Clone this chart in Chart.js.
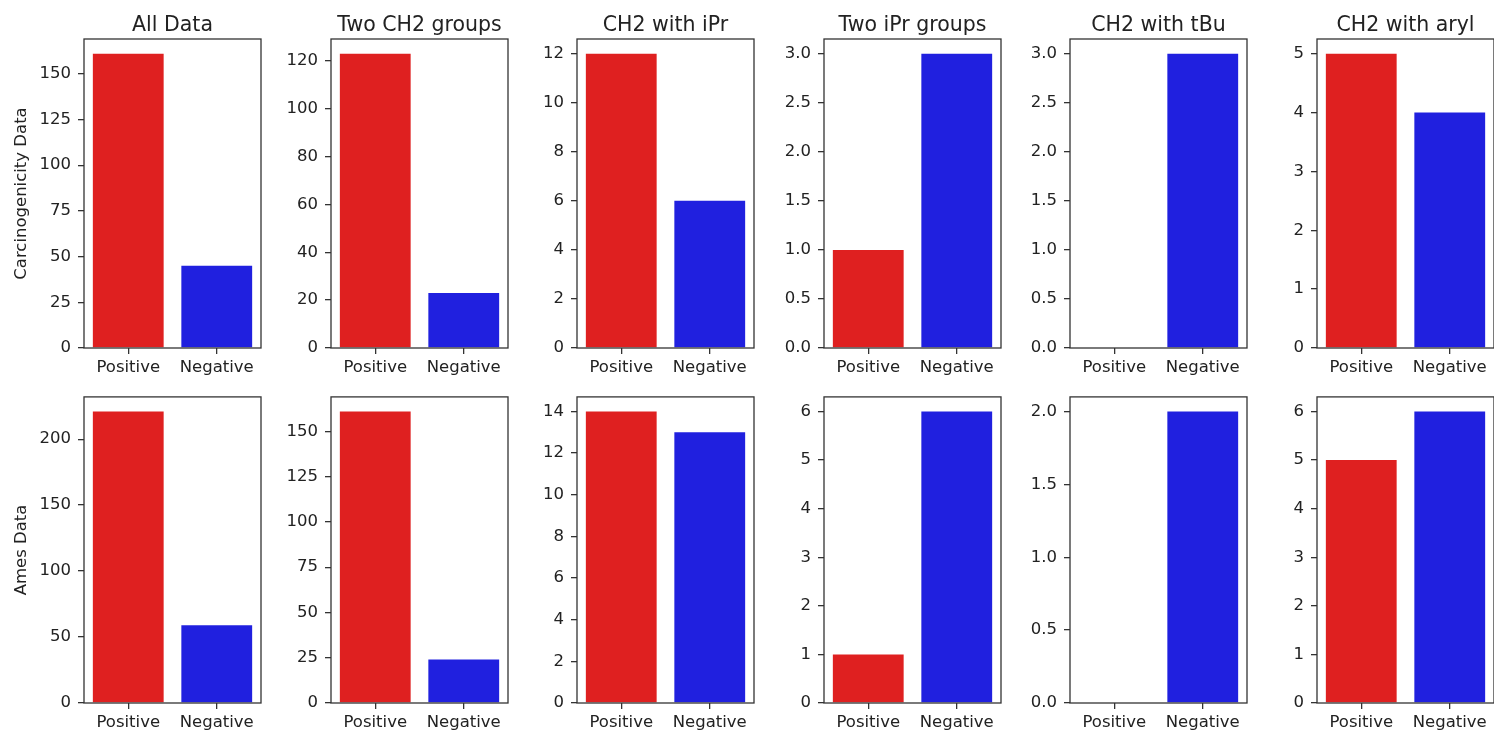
<!DOCTYPE html>
<html lang="en">
<head>
  <meta charset="UTF-8" />
  <title>Carcinogenicity and Ames Data</title>
  <script src="https://cdn.jsdelivr.net/npm/chart.js"></script>
  <style>
    body {
      margin: 0;
      background: white;
      width: 1494px;
      height: 733px;
      overflow: hidden;
      position: relative;
    }
    canvas { position: absolute; }
  </style>
</head>
<body>
  <script>
    const panelTitles = ["All Data", "Two CH2 groups", "CH2 with iPr", "Two iPr groups", "CH2 with tBu", "CH2 with aryl"];
    const categories = ["Positive", "Negative"];
    const rowLabels = ["Carcinogenicity Data", "Ames Data"];

    // [Positive, Negative] per panel
    const carcinogenicity = [[161, 45], [123, 23], [12, 6], [1, 3], [0, 3], [5, 4]];
    const ames = [[221, 59], [161, 24], [14, 13], [1, 6], [0, 2], [5, 6]];

    const carcTickSteps = [25, 20, 2, 0.5, 0.5, 1];
    const amesTickSteps = [50, 25, 2, 1, 0.5, 1];

    const barColors = ["#DF2020", "#2020DF"];

    // axes boxes (pixels)
    const axLeft = [84, 331, 577, 824, 1070, 1317];
    const axWidth = 177;
    const rows = [
      { canvasTop: 0, top: 39, bottom: 348 },
      { canvasTop: 380, top: 395, bottom: 703 }
    ];
    const xAxisH = 32;
    const textColor = "#222";
    const font = "DejaVu Sans";

    // box around the axes + title centred over the axes
    const frame = {
      id: "frame",
      afterDraw(chart, args, opts) {
        const a = chart.chartArea;
        const ctx = chart.ctx;
        ctx.save();
        ctx.strokeStyle = "#333";
        ctx.lineWidth = 1.3;
        ctx.strokeRect(a.left, a.top, a.right - a.left, a.bottom - a.top);
        if (opts.text) {
          ctx.fillStyle = textColor;
          ctx.font = "20.5px '" + font + "'";
          ctx.textAlign = "center";
          ctx.textBaseline = "alphabetic";
          ctx.fillText(opts.text, (a.left + a.right) / 2, a.top - 8);
        }
        ctx.restore();
      }
    };

    function makePanel(row, col, values, step) {
      const r = rows[row];
      const canvasLeft = col === 0 ? 0 : axLeft[col] - 70;
      const yw = axLeft[col] - canvasLeft;
      const w = yw + axWidth + 3;
      const h = (r.top - r.canvasTop) + (r.bottom - r.top) + xAxisH;

      const canvas = document.createElement("canvas");
      canvas.width = w;
      canvas.height = h;
      canvas.style.left = canvasLeft + "px";
      canvas.style.top = r.canvasTop + "px";
      document.body.appendChild(canvas);

      const ymax = Math.max(...values) * 1.05;
      const decimals = step < 1 ? 1 : 0;

      return new Chart(canvas, {
        type: "bar",
        data: {
          labels: categories,
          datasets: [{
            data: values,
            backgroundColor: barColors,
            borderWidth: 0,
            barPercentage: 0.8,
            categoryPercentage: 1
          }]
        },
        options: {
          responsive: false,
          animation: false,
          events: [],
          layout: { padding: { top: r.top - r.canvasTop, right: 3, left: 0, bottom: 0 } },
          plugins: {
            legend: { display: false },
            tooltip: { enabled: false },
            frame: { text: row === 0 ? panelTitles[col] : "" }
          },
          scales: {
            x: {
              grid: { offset: false, drawOnChartArea: false, drawTicks: true, tickLength: 6, color: "#333", lineWidth: 1.3 },
              border: { display: false },
              ticks: { color: textColor, padding: 4, maxRotation: 0, font: { family: font, size: 16.5 } },
              afterFit(scale) { scale.height = xAxisH; }
            },
            y: {
              min: 0,
              max: ymax,
              grid: { drawOnChartArea: false, drawTicks: true, tickLength: 6, color: "#333", lineWidth: 1.3 },
              border: { display: false },
              ticks: {
                color: textColor,
                padding: 7,
                font: { family: font, size: 16.5 },
                callback: (v) => Number(v).toFixed(decimals)
              },
              title: {
                display: col === 0,
                text: rowLabels[row],
                color: textColor,
                font: { family: font, size: 16.5, lineHeight: 1.2 },
                padding: { top: 12, bottom: 0 }
              },
              afterBuildTicks(scale) {
                const out = [];
                for (let i = 0; i * step <= ymax + 1e-9; i++) out.push({ value: i * step });
                scale.ticks = out;
              },
              afterFit(scale) { scale.width = yw; }
            }
          }
        },
        plugins: [frame]
      });
    }

    for (let c = 0; c < 6; c++) {
      makePanel(0, c, carcinogenicity[c], carcTickSteps[c]);
      makePanel(1, c, ames[c], amesTickSteps[c]);
    }
  </script>
</body>
</html>
